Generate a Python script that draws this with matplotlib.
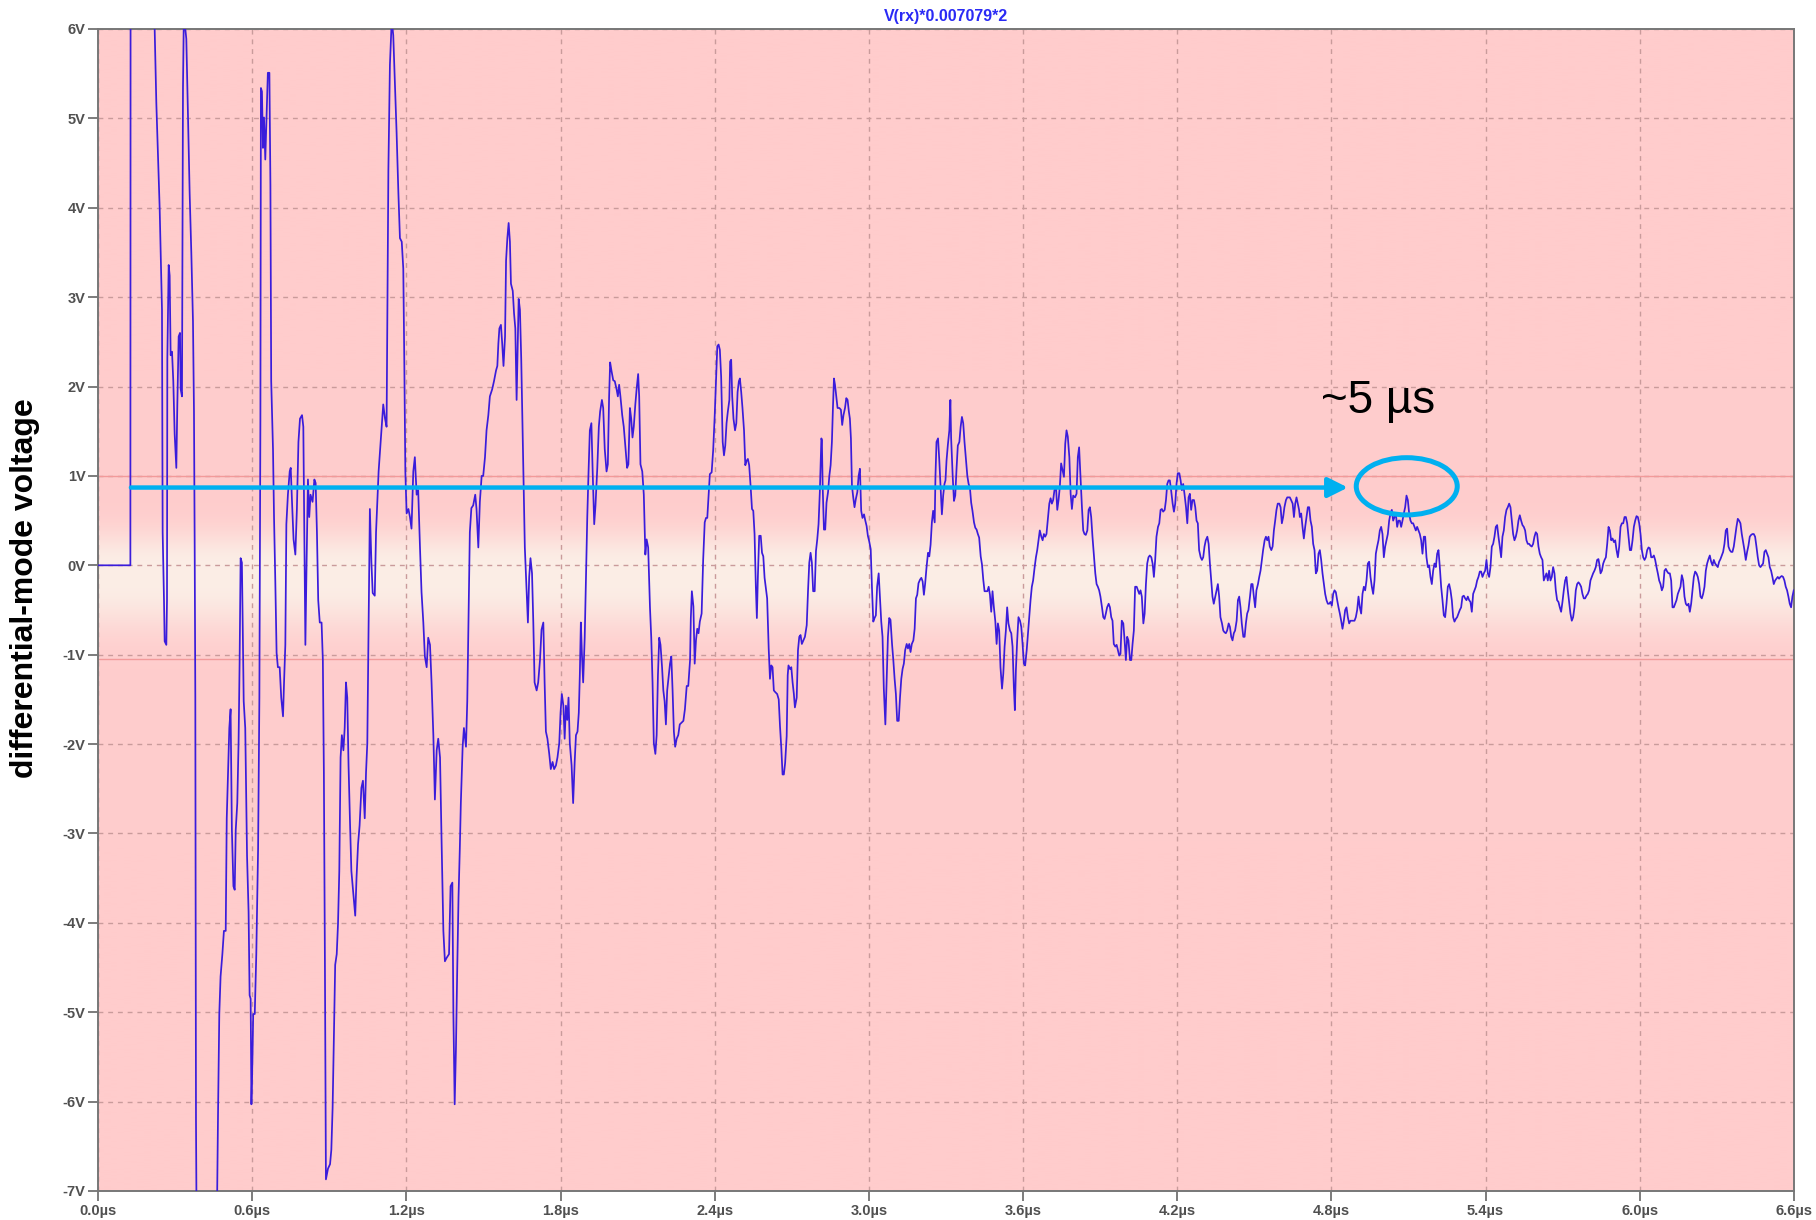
import numpy as np
import matplotlib
matplotlib.use("Agg")
import matplotlib.pyplot as plt
from matplotlib.patches import Ellipse

plt.rcParams['font.family'] = ['Liberation Sans', 'DejaVu Sans']

# ---------------------------------------------------------------- data
TRACE_NAME = "V(rx)*0.007079*2"
Y_LABEL = "differential-mode voltage"
NOTE_TEXT = "~5 µs"

TIME_TICKS = [0.0, 0.6, 1.2, 1.8, 2.4, 3.0, 3.6, 4.2, 4.8, 5.4, 6.0, 6.6]   # µs
VOLT_TICKS = [6, 5, 4, 3, 2, 1, 0, -1, -2, -3, -4, -5, -6, -7]                # V

# (time µs, voltage V) - trigger step and first strong ringing
RING_EARLY = [
    (0.000, 0.00), (0.126, 0.00), (0.127, 8.00), (0.218, 8.00), (0.2205, 6.00), (0.227, 5.17),
    (0.2335, 4.58), (0.240, 3.99), (0.244, 3.49), (0.249, 2.86), (0.2516, 0.37), (0.2568, -0.39),
    (0.2594, -0.85), (0.2659, -0.89), (0.2685, -0.39), (0.2698, 2.31), (0.275, 3.36), (0.2789, 3.24),
    (0.2827, 2.35), (0.288, 2.39), (0.293, 2.06), (0.2983, 1.47), (0.3048, 1.09), (0.3087, 1.80),
    (0.3139, 2.56), (0.3191, 2.60), (0.3217, 1.97), (0.3268, 1.89), (0.3307, 5.34), (0.3346, 6.30),
    (0.3372, 6.30), (0.3398, 6.00), (0.3437, 5.89), (0.3502, 5.01), (0.3567, 4.16), (0.3632, 3.49),
    (0.3696, 2.73), (0.3735, 1.72), (0.3761, 0.29), (0.3787, -1.48), (0.3813, -6.20), (0.3839, -7.50),
    (0.462, -7.50), (0.467, -6.16), (0.472, -5.02), (0.477, -4.60), (0.484, -4.35), (0.490, -4.09),
    (0.497, -4.09), (0.501, -2.83), (0.506, -2.32), (0.511, -1.82), (0.516, -1.61), (0.521, -2.96),
    (0.527, -3.59), (0.532, -3.63), (0.536, -2.96), (0.542, -2.66), (0.547, -1.99), (0.551, -1.10),
    (0.555, 0.08), (0.560, 0.03), (0.563, -0.64), (0.567, -1.52), (0.573, -1.82), (0.580, -3.25),
    (0.586, -3.88), (0.590, -4.81), (0.594, -4.85), (0.597, -6.03), (0.601, -5.52), (0.604, -5.02),
    (0.610, -5.02), (0.616, -4.35), (0.623, -3.17), (0.628, -1.48), (0.632, 1.64), (0.634, 5.34),
    (0.638, 5.30), (0.642, 4.67), (0.646, 5.01), (0.651, 4.54), (0.656, 5.01), (0.661, 5.51),
    (0.667, 5.51), (0.671, 4.25), (0.674, 2.06), (0.681, 1.30), (0.685, 0.54), (0.690, -0.18),
    (0.695, -0.98), (0.700, -1.14), (0.707, -1.14), (0.713, -1.48), (0.720, -1.69), (0.724, -1.31),
    (0.729, -0.89), (0.733, 0.46), (0.739, 0.79), (0.746, 1.05), (0.750, 1.09), (0.755, 0.71),
    (0.761, 0.29), (0.768, 0.12), (0.774, 0.63), (0.780, 1.38), (0.786, 1.64), (0.794, 1.68),
    (0.799, 1.55), (0.803, 0.29), (0.807, -0.89), (0.812, 0.08), (0.817, 0.96), (0.822, 0.54),
    (0.827, 0.79), (0.835, 0.71), (0.842, 0.96), (0.847, 0.92), (0.852, 0.37), (0.857, -0.39),
    (0.863, -0.64), (0.870, -0.64), (0.875, -1.06), (0.879, -2.32), (0.883, -4.43), (0.887, -6.87),
    (0.895, -6.75), (0.903, -6.70), (0.908, -6.54), (0.913, -6.07), (0.918, -5.27), (0.923, -4.47),
    (0.929, -4.35), (0.934, -4.01), (0.939, -3.42), (0.944, -2.15), (0.949, -1.90), (0.955, -2.07),
    (0.960, -1.82), (0.965, -1.31), (0.970, -1.48), (0.975, -2.24), (0.981, -2.91), (0.986, -3.42),
    (0.991, -3.59), (0.996, -3.76), (1.001, -3.92), (1.006, -3.50), (1.012, -3.12), (1.018, -2.91),
    (1.025, -2.49), (1.031, -2.41), (1.038, -2.83), (1.043, -2.32), (1.048, -1.99), (1.053, -0.72),
    (1.058, 0.63), (1.064, 0.03), (1.069, -0.31), (1.077, -0.34), (1.082, 0.37), (1.087, 0.71),
    (1.092, 1.05),
]

RING_SECOND = [
    (1.104, 1.55), (1.110, 1.80), (1.117, 1.64), (1.123, 1.55), (1.130, 4.42), (1.136, 5.60),
    (1.143, 6.10), (1.149, 5.93), (1.156, 5.34), (1.162, 4.84), (1.169, 4.16), (1.175, 3.66),
    (1.182, 3.62), (1.188, 3.32), (1.192, 2.27), (1.196, 1.05), (1.201, 0.58), (1.208, 0.63),
    (1.214, 0.54), (1.220, 0.41), (1.227, 1.05), (1.233, 1.21), (1.240, 0.79), (1.246, 0.84),
    (1.253, 0.20), (1.259, -0.30), (1.266, -0.64), (1.272, -1.02), (1.279, -1.14), (1.285, -0.81),
    (1.292, -0.89), (1.298, -1.31), (1.305, -1.90), (1.311, -2.62), (1.318, -2.07), (1.324, -1.94),
    (1.331, -2.15), (1.337, -3.08), (1.344, -4.09), (1.350, -4.43), (1.357, -4.39), (1.366, -4.35),
    (1.372, -3.59), (1.379, -3.55), (1.383, -5.02), (1.388, -6.03), (1.393, -5.40), (1.398, -4.51),
    (1.403, -3.71), (1.408, -3.17), (1.412, -2.66), (1.419, -2.03), (1.424, -1.82), (1.432, -2.03),
    (1.437, -1.52), (1.442, -0.55), (1.447, 0.37), (1.453, 0.64), (1.460, 0.67), (1.468, 0.79),
    (1.473, 0.63), (1.480, 0.20), (1.486, 0.71), (1.493, 1.00), (1.499, 1.00), (1.506, 1.21),
    (1.512, 1.51), (1.519, 1.68), (1.525, 1.89), (1.534, 1.97), (1.541, 2.06), (1.549, 2.18),
    (1.554, 2.23), (1.558, 2.48), (1.562, 2.65), (1.568, 2.69), (1.573, 2.48), (1.578, 2.23),
    (1.584, 2.56), (1.588, 3.41), (1.593, 3.66), (1.598, 3.83), (1.603, 3.62), (1.607, 3.15),
    (1.614, 3.07), (1.619, 2.82), (1.624, 2.65), (1.629, 1.85), (1.633, 2.39), (1.637, 2.98),
    (1.642, 2.86), (1.647, 2.31), (1.652, 1.55), (1.656, 0.88), (1.661, 0.20), (1.668, -0.30),
    (1.673, -0.64), (1.678, -0.13), (1.683, 0.08), (1.689, -0.09), (1.694, -0.64), (1.699, -1.31),
    (1.707, -1.40), (1.713, -1.31), (1.720, -1.06), (1.726, -0.72), (1.733, -0.64), (1.738, -1.31),
    (1.743, -1.86), (1.749, -1.94), (1.756, -2.11), (1.762, -2.28), (1.769, -2.20), (1.775, -2.28),
    (1.782, -2.24), (1.788, -2.15), (1.795, -1.99), (1.800, -1.65), (1.805, -1.44), (1.811, -1.57),
    (1.816, -1.94), (1.821, -1.57), (1.826, -1.73), (1.831, -1.48), (1.836, -1.99), (1.843, -2.24),
    (1.849, -2.66), (1.855, -2.20), (1.860, -1.90), (1.866, -1.86), (1.871, -1.65), (1.875, -1.23),
    (1.879, -0.64), (1.883, -0.98), (1.888, -1.31), (1.894, -0.81), (1.899, -0.13), (1.904, 0.54),
    (1.909, 1.05), (1.914, 1.51), (1.920, 1.59), (1.925, 1.05), (1.931, 0.46), (1.936, 0.67),
    (1.943, 1.09), (1.949, 1.55), (1.954, 1.72), (1.961, 1.85), (1.966, 1.76), (1.972, 1.30),
    (1.979, 1.05), (1.984, 1.13), (1.989, 1.89), (1.993, 2.27), (1.998, 2.18), (2.005, 2.07),
    (2.011, 2.06), (2.018, 1.97), (2.023, 1.89), (2.028, 2.02), (2.033, 1.89), (2.040, 1.68),
    (2.046, 1.55), (2.053, 1.30), (2.059, 1.09), (2.064, 1.13), (2.070, 1.76), (2.075, 1.64),
    (2.080, 1.43), (2.085, 1.55), (2.091, 1.80), (2.096, 1.97), (2.102, 2.14), (2.106, 1.89),
    (2.111, 1.13), (2.118, 1.05), (2.124, 0.79), (2.130, 0.12), (2.135, 0.29), (2.141, 0.20),
    (2.148, -0.47), (2.153, -0.81), (2.158, -1.31), (2.163, -1.99), (2.169, -2.11), (2.174, -1.90),
    (2.179, -1.23), (2.184, -0.81), (2.189, -0.89), (2.195, -1.14), (2.200, -1.40), (2.205, -1.52),
    (2.210, -1.78), (2.215, -1.40), (2.221, -1.23), (2.226, -1.10), (2.231, -1.02), (2.236, -1.40),
    (2.241, -1.86), (2.246, -2.03), (2.252, -1.94), (2.258, -1.90), (2.264, -1.78),
]

RING_MIDDLE = [
    (2.278, -1.74), (2.284, -1.61), (2.291, -1.35), (2.297, -1.35), (2.304, -1.06), (2.307, -0.59),
    (2.311, -0.29), (2.317, -0.46), (2.322, -1.10), (2.327, -0.84), (2.332, -0.71), (2.337, -0.76),
    (2.342, -0.63), (2.349, -0.54), (2.355, 0.06), (2.361, 0.48), (2.366, 0.53), (2.371, 0.53),
    (2.376, 0.78), (2.381, 1.02), (2.388, 1.04), (2.394, 1.29), (2.400, 1.68), (2.405, 2.06),
    (2.410, 2.45), (2.415, 2.47), (2.420, 2.41), (2.425, 2.11), (2.431, 1.38), (2.436, 1.23),
    (2.441, 1.34), (2.446, 1.59), (2.451, 1.72), (2.457, 1.85), (2.460, 2.28), (2.464, 2.30),
    (2.468, 1.89), (2.473, 1.64), (2.479, 1.51), (2.484, 1.59), (2.489, 1.94), (2.494, 2.06),
    (2.498, 2.09), (2.503, 1.94), (2.508, 1.76), (2.514, 1.51), (2.519, 1.12), (2.524, 1.17),
    (2.529, 1.19), (2.534, 1.12), (2.540, 0.87), (2.545, 0.63), (2.550, 0.61), (2.555, 0.35),
    (2.560, -0.24), (2.564, -0.59), (2.568, -0.12), (2.573, 0.33), (2.579, 0.33), (2.584, 0.14),
    (2.589, 0.10), (2.594, -0.14), (2.599, -0.26), (2.604, -0.37), (2.610, -0.93), (2.615, -1.27),
    (2.620, -1.12), (2.625, -1.14), (2.630, -1.40), (2.636, -1.42), (2.643, -1.44), (2.649, -1.50),
    (2.654, -1.80), (2.659, -2.04), (2.664, -2.34), (2.669, -2.34), (2.674, -2.21), (2.680, -1.91),
    (2.684, -1.23), (2.687, -1.12), (2.693, -1.16), (2.698, -1.14), (2.703, -1.31), (2.708, -1.44),
    (2.712, -1.59), (2.719, -1.48), (2.724, -0.95), (2.729, -0.80), (2.734, -0.78), (2.739, -0.88),
    (2.745, -0.84), (2.751, -0.80), (2.758, -0.67), (2.763, -0.29), (2.768, 0.03), (2.773, 0.14),
    (2.778, 0.03), (2.783, -0.29), (2.789, -0.29), (2.794, 0.16), (2.799, 0.29), (2.804, 0.46),
    (2.809, 0.82), (2.815, 1.42), (2.817, 1.40), (2.820, 0.89), (2.825, 0.40), (2.830, 0.40),
    (2.835, 0.70), (2.841, 0.82), (2.846, 1.00), (2.851, 1.12), (2.856, 1.38), (2.860, 1.76),
    (2.864, 2.09), (2.868, 2.02), (2.873, 1.89), (2.878, 1.76), (2.885, 1.76), (2.891, 1.74),
    (2.896, 1.57), (2.901, 1.68), (2.907, 1.76), (2.912, 1.87), (2.917, 1.85), (2.922, 1.72),
    (2.926, 1.64), (2.930, 1.42), (2.934, 0.89), (2.939, 0.76), (2.944, 0.65), (2.949, 0.74),
    (2.955, 0.82), (2.960, 1.00), (2.965, 1.08), (2.970, 0.61), (2.975, 0.53), (2.981, 0.57),
    (2.986, 0.50), (2.991, 0.44), (2.996, 0.33), (3.001, 0.27), (3.007, 0.18), (3.012, -0.26),
    (3.017, -0.63), (3.022, -0.59), (3.027, -0.56), (3.032, -0.24), (3.038, -0.09), (3.043, -0.37),
    (3.048, -0.63), (3.053, -0.80), (3.058, -1.38), (3.064, -1.78), (3.069, -1.31), (3.074, -0.80),
    (3.079, -0.59), (3.084, -0.61), (3.090, -0.88), (3.095, -1.06), (3.100, -1.27), (3.105, -1.44),
    (3.110, -1.74), (3.116, -1.74), (3.121, -1.48), (3.126, -1.27), (3.131, -1.16), (3.136, -1.10),
    (3.141, -0.95), (3.147, -0.88), (3.152, -0.93), (3.157, -0.88), (3.162, -0.97), (3.167, -0.88),
    (3.173, -0.84), (3.178, -0.71), (3.183, -0.37), (3.188, -0.33), (3.193, -0.20), (3.199, -0.16),
    (3.204, -0.14), (3.209, -0.18), (3.214, -0.33), (3.219, -0.20), (3.224, -0.03), (3.230, 0.14),
    (3.235, 0.10), (3.240, 0.23), (3.245, 0.48), (3.250, 0.61), (3.256, 0.48), (3.259, 1.00),
    (3.263, 1.38), (3.269, 1.42), (3.274, 1.17), (3.279, 0.87), (3.284, 0.57), (3.289, 0.78),
    (3.294, 0.91), (3.298, 0.95), (3.302, 1.17), (3.307, 1.34), (3.313, 1.51), (3.317, 1.85),
    (3.320, 1.42), (3.326, 1.00), (3.331, 0.72), (3.336, 0.78), (3.341, 1.08), (3.346, 1.34),
    (3.352, 1.38), (3.357, 1.55), (3.362, 1.66), (3.367, 1.59), (3.372, 1.38), (3.378, 1.17),
    (3.383, 1.00), (3.388, 0.91), (3.393, 0.87), (3.398, 0.70), (3.403, 0.61), (3.409, 0.48),
    (3.414, 0.42), (3.419, 0.40), (3.424, 0.35), (3.429, 0.31), (3.435, 0.10), (3.440, 0.01),
    (3.445, -0.16), (3.450, -0.29), (3.455, -0.29), (3.461, -0.29), (3.466, -0.24), (3.471, -0.33),
    (3.476, -0.52), (3.481, -0.29), (3.486, -0.46), (3.492, -0.63), (3.497, -0.88),
]

RING_DECAY = [
    (3.502, -0.65), (3.507, -0.73), (3.512, -1.14), (3.518, -1.38), (3.523, -1.21), (3.528, -0.91),
    (3.533, -0.73), (3.538, -0.47), (3.543, -0.65), (3.549, -0.73), (3.554, -0.76), (3.559, -0.91),
    (3.564, -1.36), (3.568, -1.62), (3.572, -1.17), (3.577, -0.84), (3.582, -0.58), (3.588, -0.62),
    (3.593, -0.69), (3.598, -0.88), (3.603, -1.10), (3.608, -1.12), (3.614, -0.95), (3.619, -0.76),
    (3.624, -0.58), (3.629, -0.39), (3.634, -0.24), (3.639, -0.17), (3.645, -0.02), (3.650, 0.09),
    (3.655, 0.17), (3.660, 0.28), (3.665, 0.39), (3.671, 0.32), (3.676, 0.28), (3.681, 0.35),
    (3.686, 0.32), (3.691, 0.35), (3.697, 0.54), (3.702, 0.69), (3.707, 0.75), (3.712, 0.69),
    (3.717, 0.73), (3.722, 0.84), (3.728, 0.88), (3.733, 0.62), (3.738, 0.73), (3.743, 0.88),
    (3.748, 1.14), (3.754, 1.06), (3.759, 0.99), (3.764, 1.36), (3.769, 1.51), (3.774, 1.44),
    (3.780, 1.21), (3.785, 0.80), (3.790, 0.63), (3.795, 0.78), (3.802, 0.76), (3.808, 0.80),
    (3.813, 1.21), (3.818, 1.32), (3.824, 0.95), (3.829, 0.65), (3.834, 0.39), (3.839, 0.35),
    (3.844, 0.34), (3.850, 0.39), (3.855, 0.62), (3.860, 0.65), (3.865, 0.54), (3.870, 0.32),
    (3.876, 0.09), (3.881, -0.09), (3.886, -0.21), (3.891, -0.24), (3.896, -0.28), (3.901, -0.35),
    (3.907, -0.47), (3.912, -0.58), (3.917, -0.60), (3.922, -0.54), (3.927, -0.47), (3.933, -0.43),
    (3.938, -0.47), (3.943, -0.58), (3.948, -0.62), (3.953, -0.88), (3.959, -0.91), (3.964, -0.89),
    (3.969, -0.95), (3.974, -1.01), (3.979, -0.99), (3.984, -0.62), (3.990, -0.65), (3.995, -0.84),
    (4.000, -1.06), (4.005, -0.80), (4.010, -0.84), (4.016, -1.06), (4.021, -1.06), (4.026, -0.88),
    (4.031, -0.73), (4.036, -0.24), (4.042, -0.24), (4.047, -0.28), (4.052, -0.32), (4.057, -0.28),
    (4.062, -0.35), (4.068, -0.65), (4.073, -0.54), (4.078, -0.21), (4.083, 0.02), (4.088, 0.09),
    (4.093, 0.11), (4.099, 0.09), (4.104, 0.02), (4.109, -0.13), (4.114, 0.06), (4.119, 0.32),
    (4.125, 0.43), (4.130, 0.47), (4.135, 0.62), (4.140, 0.63), (4.145, 0.60), (4.151, 0.62),
    (4.156, 0.73), (4.161, 0.91), (4.166, 0.95), (4.171, 0.95), (4.176, 0.84), (4.182, 0.69),
    (4.187, 0.60), (4.192, 0.69), (4.197, 0.91), (4.202, 1.03), (4.208, 1.03), (4.213, 0.95),
    (4.218, 0.84), (4.223, 0.91), (4.228, 0.80), (4.234, 0.65), (4.239, 0.47), (4.244, 0.76),
    (4.249, 0.80), (4.254, 0.62), (4.259, 0.73), (4.265, 0.73), (4.270, 0.65), (4.275, 0.50),
    (4.280, 0.47), (4.285, 0.17), (4.291, 0.09), (4.296, 0.06), (4.301, 0.09), (4.306, 0.21),
    (4.311, 0.28), (4.317, 0.32), (4.322, 0.24), (4.327, 0.02), (4.332, -0.17), (4.337, -0.35),
    (4.342, -0.43), (4.348, -0.35), (4.353, -0.28), (4.358, -0.21), (4.363, -0.35), (4.368, -0.58),
    (4.374, -0.65), (4.379, -0.73), (4.384, -0.75), (4.389, -0.76), (4.394, -0.73), (4.400, -0.65),
    (4.405, -0.69), (4.410, -0.80), (4.415, -0.84), (4.420, -0.76), (4.425, -0.73), (4.431, -0.62),
    (4.436, -0.39), (4.441, -0.35), (4.446, -0.47), (4.451, -0.65), (4.457, -0.80), (4.462, -0.80),
    (4.467, -0.65), (4.472, -0.54), (4.477, -0.50), (4.483, -0.35), (4.488, -0.21), (4.493, -0.21),
    (4.498, -0.35), (4.503, -0.47), (4.508, -0.28), (4.514, -0.21), (4.519, -0.13), (4.524, -0.06),
    (4.529, 0.06), (4.534, 0.17), (4.540, 0.28), (4.545, 0.32), (4.550, 0.28), (4.555, 0.32),
    (4.560, 0.21), (4.566, 0.17), (4.571, 0.21), (4.576, 0.39), (4.581, 0.50), (4.586, 0.62),
    (4.591, 0.69), (4.597, 0.69), (4.602, 0.65), (4.607, 0.47), (4.612, 0.54), (4.617, 0.65),
    (4.623, 0.73), (4.628, 0.76), (4.633, 0.76), (4.638, 0.76), (4.643, 0.73), (4.649, 0.69),
    (4.654, 0.54), (4.659, 0.69), (4.664, 0.76), (4.669, 0.69), (4.674, 0.62),
]

# uniformly sampled tail sections (start µs, stop µs, volts)
TAIL_A_SPAN = (4.677, 5.839)
TAIL_A_VOLTS = [
    0.54, 0.58, 0.43, 0.30, 0.43, 0.54, 0.65, 0.65, 0.50, 0.43, 0.24, 0.17, -0.09, -0.06, 0.13, 0.17,
    0.06, -0.09, -0.21, -0.32, -0.39, -0.43, -0.43, -0.41, -0.45, -0.32, -0.28, -0.30, -0.39, -0.47,
    -0.54, -0.62, -0.71, -0.62, -0.50, -0.47, -0.58, -0.65, -0.62, -0.62, -0.62, -0.62, -0.58, -0.50,
    -0.35, -0.47, -0.54, -0.32, -0.24, -0.28, -0.17, 0.02, 0.04, -0.13, -0.24, -0.32, -0.17, 0.13,
    0.21, 0.28, 0.39, 0.43, 0.35, 0.09, 0.21, 0.28, 0.35, 0.50, 0.58, 0.62, 0.50, 0.54, 0.58, 0.43,
    0.50, 0.50, 0.43, 0.50, 0.58, 0.65, 0.78, 0.73, 0.58, 0.50, 0.47, 0.47, 0.43, 0.39, 0.43, 0.39,
    0.35, 0.28, 0.13, 0.32, 0.32, 0.09, -0.02, 0.00, -0.13, -0.21, -0.06, 0.02, -0.02, 0.13, 0.17,
    -0.02, -0.24, -0.39, -0.56, -0.58, -0.43, -0.24, -0.21, -0.28, -0.39, -0.58, -0.63, -0.60, -0.58,
    -0.54, -0.50, -0.47, -0.35, -0.34, -0.37, -0.39, -0.35, -0.39, -0.41, -0.52, -0.32, -0.28, -0.24,
    -0.17, -0.13, -0.07, -0.07, -0.13, -0.09, -0.06, 0.06, -0.09, -0.13, -0.02, 0.21, 0.24, 0.32,
    0.43, 0.45, 0.32, 0.21, 0.09, 0.32, 0.39, 0.54, 0.62, 0.65, 0.69, 0.65, 0.50, 0.35, 0.28, 0.32,
    0.39, 0.50, 0.56, 0.50, 0.45, 0.43, 0.39, 0.28, 0.24, 0.24, 0.22, 0.21, 0.24, 0.32, 0.37, 0.35,
    0.21, 0.13, 0.09, 0.06, -0.17, -0.13, -0.09, -0.17, -0.06, -0.17, -0.13, -0.02, -0.09, -0.28,
    -0.39, -0.41, -0.47, -0.52, -0.41, -0.28, -0.17, -0.13, -0.28, -0.41, -0.54, -0.62, -0.58, -0.47,
    -0.28, -0.21, -0.19, -0.21, -0.24, -0.32, -0.37, -0.37, -0.34, -0.32, -0.28, -0.17, -0.13, -0.09,
    -0.06, -0.02, 0.06, 0.07,
]

TAIL_B_SPAN = (5.842, 6.599)
TAIL_B_VOLTS = [
    0.02, -0.09, -0.06, 0.02, 0.06, 0.09, 0.24, 0.43, 0.39, 0.28, 0.30, 0.26, 0.28, 0.17, 0.09, 0.21,
    0.43, 0.47, 0.47, 0.54, 0.54, 0.47, 0.32, 0.17, 0.17, 0.28, 0.43, 0.50, 0.55, 0.54, 0.47, 0.35,
    0.17, 0.09, 0.06, 0.09, 0.17, 0.20, 0.19, 0.09, 0.09, 0.11, 0.06, -0.02, -0.09, -0.17, -0.21,
    -0.28, -0.24, -0.06, -0.04, -0.07, -0.09, -0.09, -0.17, -0.47, -0.47, -0.43, -0.39, -0.32, -0.28,
    -0.24, -0.11, -0.17, -0.35, -0.43, -0.45, -0.43, -0.52, -0.43, -0.28, -0.13, -0.07, -0.09, -0.13,
    -0.21, -0.35, -0.37, -0.32, -0.24, -0.06, 0.02, 0.07, 0.11, 0.04, 0.00, 0.06, 0.02, 0.00, -0.02,
    0.04, 0.07, 0.11, 0.15, 0.24, 0.39, 0.41, 0.21, 0.17, 0.15, 0.15, 0.21, 0.32, 0.43, 0.52, 0.50,
    0.47, 0.35, 0.26, 0.17, 0.06, 0.15, 0.22, 0.32, 0.34, 0.35, 0.35, 0.32, 0.21, 0.09, 0.00, -0.02,
    0.00, 0.02, 0.15, 0.17, 0.13, 0.09, -0.02, -0.06, -0.13, -0.21, -0.17, -0.15, -0.13, -0.15,
    -0.13, -0.12, -0.13, -0.17, -0.24, -0.28, -0.35, -0.43, -0.47, -0.35, -0.28,
]

# annotation: reference level arrow and marked peak
ARROW_LEVEL = 0.87       # V
ARROW_FROM = 0.128       # µs
ARROW_TO = 4.864         # µs
MARK_CENTER = (5.093, 0.884)
MARK_SIZE = (0.393, 0.64)
NOTE_POS = (4.760, 1.70)

# ---------------------------------------------------------------- assemble trace
t_parts, v_parts = [], []
for seg in (RING_EARLY, RING_SECOND, RING_MIDDLE, RING_DECAY):
    t_parts.append(np.array([p[0] for p in seg]))
    v_parts.append(np.array([p[1] for p in seg]))
for span, volts in ((TAIL_A_SPAN, TAIL_A_VOLTS), (TAIL_B_SPAN, TAIL_B_VOLTS)):
    t_parts.append(np.linspace(span[0], span[1], len(volts)))
    v_parts.append(np.array(volts))
t_all = np.concatenate(t_parts)
v_all = np.concatenate(v_parts)

# ---------------------------------------------------------------- figure
W, H = 1816, 1220
fig = plt.figure(figsize=(W / 100, H / 100), dpi=100, facecolor="white")
ax = fig.add_axes([98 / W, (H - 1191) / H, (1794 - 98) / W, (1191 - 29) / H])

x_min, x_max = TIME_TICKS[0], TIME_TICKS[-1]
y_min, y_max = min(VOLT_TICKS), max(VOLT_TICKS)

# pink plot area with a pale horizontal band around 0 V
vv = np.linspace(y_min, y_max, 1301)
w = np.where(vv > 0.02, np.exp(-((vv - 0.02) / 0.36) ** 2),
             np.where(vv < -0.22, np.exp(-((vv + 0.22) / 0.50) ** 2), 1.0))
pink = np.array([1.0, 0.80, 0.80])
cream = np.array([0.985, 0.93, 0.90])
band = pink[None, :] * (1 - w[:, None]) + cream[None, :] * w[:, None]
ax.imshow(band[:, None, :], extent=[x_min, x_max, y_min, y_max], origin="lower",
          aspect="auto", interpolation="bilinear", zorder=0)

ax.set_xlim(x_min, x_max)
ax.set_ylim(y_min, y_max)

ax.set_xticks(TIME_TICKS)
ax.set_xticklabels([f"{t:.1f}µs" for t in TIME_TICKS])
ax.set_yticks(VOLT_TICKS)
ax.set_yticklabels([f"{v}V" for v in VOLT_TICKS])

ax.grid(True, color="#C99B9B", linestyle=(0, (3.5, 3.5)), linewidth=1.0)
ax.set_axisbelow("line")

for lvl in (1.0, -1.05):
    ax.axhline(lvl, color="#F29A9A", linewidth=1.0, zorder=1.6)

ax.tick_params(axis="both", direction="out", length=7, width=1.2, color="#666666",
               labelsize=10.5, labelcolor="#505050", pad=2)
for lab in ax.get_xticklabels() + ax.get_yticklabels():
    lab.set_fontweight("bold")
for sp in ax.spines.values():
    sp.set_color("#777777")
    sp.set_linewidth(1.4)

ax.plot(t_all, v_all, color="#3A1CDB", linewidth=1.25, zorder=3)

# reference-level arrow, circled peak and note
cyan = "#00B0F0"
ax.annotate("", xy=(ARROW_TO, ARROW_LEVEL), xytext=(ARROW_FROM, ARROW_LEVEL),
            arrowprops=dict(arrowstyle="-|>,head_length=0.6,head_width=0.3", color=cyan,
                            lw=3.2, shrinkA=0, shrinkB=0, mutation_scale=20), zorder=4)
ax.add_patch(Ellipse(MARK_CENTER, MARK_SIZE[0], MARK_SIZE[1], fill=False,
                     edgecolor=cyan, linewidth=3.6, zorder=4))
ax.text(NOTE_POS[0], NOTE_POS[1], NOTE_TEXT, fontsize=33, color="black",
        ha="left", va="baseline", zorder=5)

fig.text((98 + 1794) / 2 / W, 1 - 16 / H, TRACE_NAME, color="#2A2AF5", fontsize=11.5,
         fontweight="bold", ha="center", va="center")
fig.text(25 / W, 1 - 588 / H, Y_LABEL, rotation=90, fontsize=23, fontweight="bold",
         color="black", ha="center", va="center")

fig.savefig("out.png", dpi=100, facecolor="white")
